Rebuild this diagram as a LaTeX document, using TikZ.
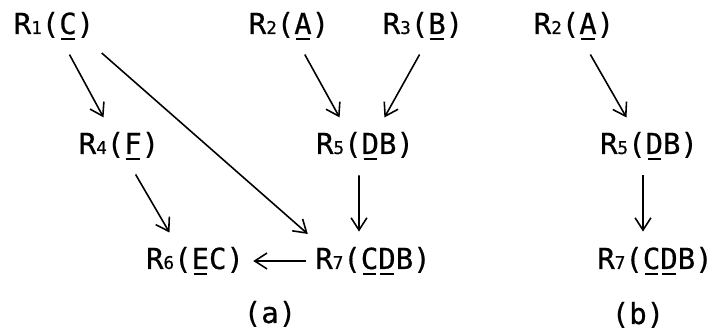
\documentclass[tikz,border=0pt]{standalone}
\usepackage{fontspec}
\setmainfont[FakeBold=0.6]{DejaVu Sans Mono}
\usetikzlibrary{arrows.meta}
\newcommand{\ridx}[1]{{\fontsize{10}{10}\selectfont #1}}
\newcommand{\uln}[1]{\setbox0\hbox{#1}%
  \rlap{\kern0.12\wd0\rule[-0.2em]{0.76\wd0}{0.07em}}\box0}
\begin{document}
\begin{tikzpicture}[
  rel/.style={font=\fontsize{16.5}{18}\selectfont, inner xsep=1.1pt, inner ysep=4.6pt,
    text height=12.5pt, text depth=3.4pt},
  link/.style={line width=0.9pt, -{Straight Barb[length=7pt,width=9pt]},
    shorten >=4pt, shorten <=4pt}]
  \useasboundingbox (0,0) rectangle (14.28,6.64);
  % (a)
  \node[rel] (r1) at (1.08,6.12) {R\ridx{1}(\uln{C})};
  \node[rel] (r2) at (5.78,6.12) {R\ridx{2}(\uln{A})};
  \node[rel] (r3) at (8.46,6.12) {R\ridx{3}(\uln{B})};
  \node[rel] (r4) at (2.38,3.72) {R\ridx{4}(\uln{F})};
  \node[rel] (r5) at (7.30,3.72) {R\ridx{5}(\uln{D}B)};
  \node[rel] (r6) at (3.90,1.42) {R\ridx{6}(\uln{E}C)};
  \node[rel] (r7) at (7.46,1.42) {R\ridx{7}(\uln{C}\uln{D}B)};
  \node[rel] (la) at (5.40,0.34) {(a)};
  \draw[link] (r1) -- (r4);
  \draw[link] (r1.south east) -- (r7.north west);
  \draw[link] (r2) -- ([xshift=-0.44cm]r5.north);
  \draw[link] (r3.south) -- ([xshift=0.32cm]r5.north);
  \draw[link] (r4) -- ([xshift=-0.44cm]r6.north);
  \draw[link] ([xshift=-0.12cm]r5.south) -- ([xshift=-0.28cm]r7.north);
  \draw[link] (r7) -- (r6);
  % (b)
  \node[rel] (r2b) at (11.48,6.12) {R\ridx{2}(\uln{A})};
  \node[rel] (r5b) at (12.98,3.72) {R\ridx{5}(\uln{D}B)};
  \node[rel] (r7b) at (13.10,1.42) {R\ridx{7}(\uln{C}\uln{D}B)};
  \node[rel] (lb) at (12.76,0.32) {(b)};
  \draw[link] (r2b) -- ([xshift=-0.38cm]r5b.north);
  \draw[link] ([xshift=-0.12cm]r5b.south) -- ([xshift=-0.24cm]r7b.north);
\end{tikzpicture}
\end{document}
